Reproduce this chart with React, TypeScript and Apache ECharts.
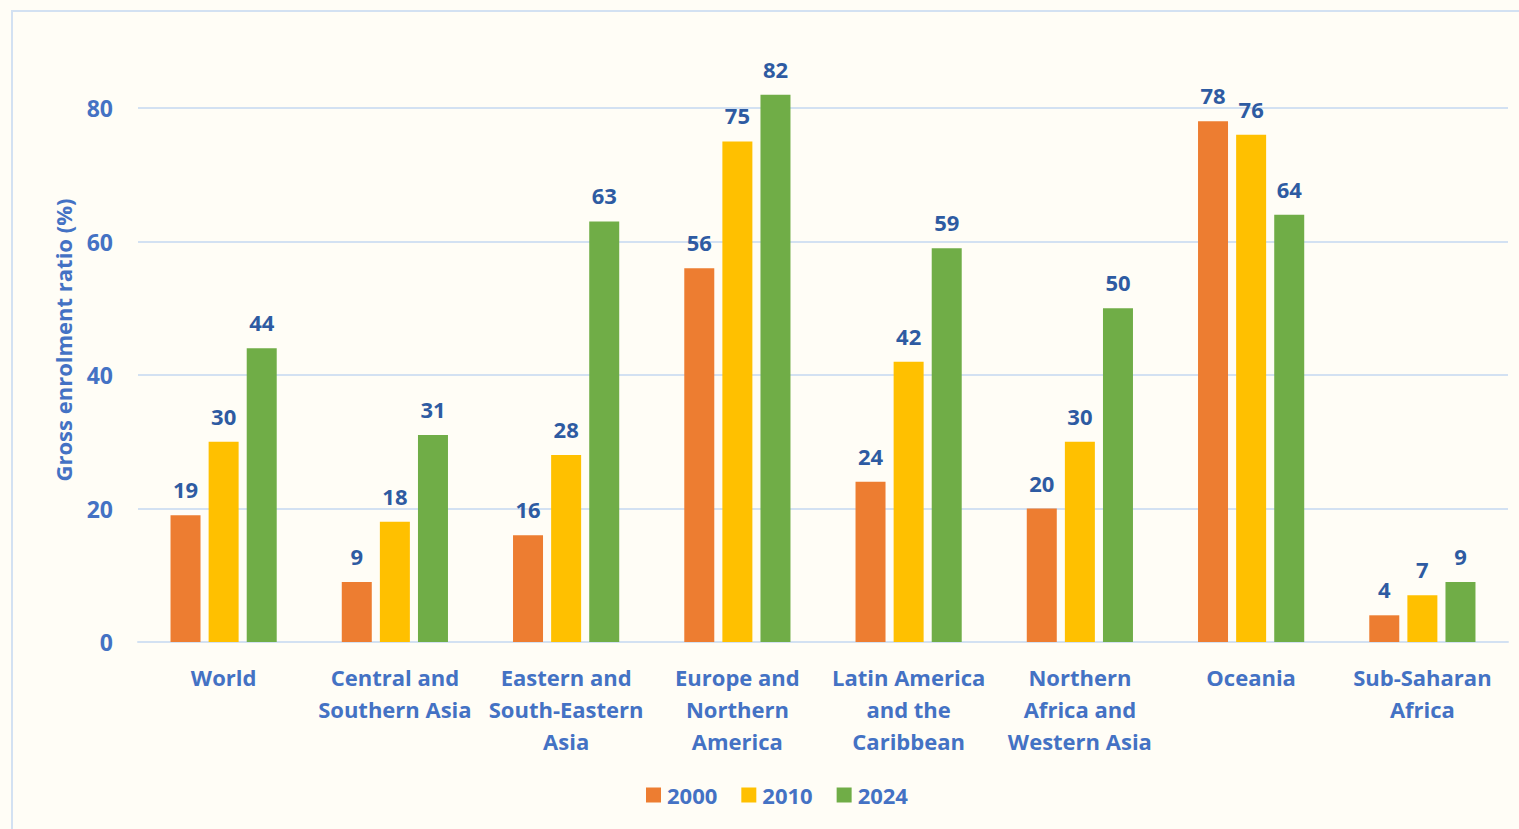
import React, { useEffect, useRef } from "react";
import * as echarts from "echarts";

const categories = [
  "World",
  "Central and\nSouthern Asia",
  "Eastern and\nSouth-Eastern\nAsia",
  "Europe and\nNorthern\nAmerica",
  "Latin America\nand the\nCaribbean",
  "Northern\nAfrica and\nWestern Asia",
  "Oceania",
  "Sub-Saharan\nAfrica",
];
const s2000 = [19, 9, 16, 56, 24, 20, 78, 4];
const s2010 = [30, 18, 28, 75, 42, 30, 76, 7];
const s2024 = [44, 31, 63, 82, 59, 50, 64, 9];
const seriesNames = ["2000", "2010", "2024"];
const colors = ["#ED7D31", "#FFC000", "#70AD47"];
const yAxisTitle = "Gross enrolment ratio (%)";

const FONT = "'Open Sans', 'Noto Sans', sans-serif";
const AXIS_BLUE = "#4472C4";
const LABEL_BLUE = "#2E5BA2";

export default function App() {
  const ref = useRef<HTMLDivElement>(null);
  useEffect(() => {
    if (!ref.current) return;
    const chart = echarts.init(ref.current, null, { renderer: "svg" });
    const data = [s2000, s2010, s2024];
    chart.setOption({
      animation: false,
      backgroundColor: "#FFFDF6",
      textStyle: { fontFamily: FONT },
      graphic: [
        {
          type: "rect",
          shape: { x: 12, y: 11, width: 1530, height: 840 },
          style: { fill: "none", stroke: "#D3E1F2", lineWidth: 2 },
          silent: true,
        },
        {
          type: "text",
          x: 63,
          y: 340,
          rotation: Math.PI / 2,
          style: {
            text: yAxisTitle,
            fill: AXIS_BLUE,
            font: `bold 22px ${FONT}`,
            align: "center",
            verticalAlign: "middle",
          },
          silent: true,
        },
      ],
      legend: {
        bottom: 18,
        left: 641,
        itemWidth: 15,
        itemHeight: 15,
        itemGap: 24,
        icon: "rect",
        textStyle: { color: AXIS_BLUE, fontSize: 22, fontWeight: "bold", fontFamily: FONT, padding: [0, 0, 0, 1] },
        data: seriesNames,
      },
      grid: { left: 138, right: 11, top: 108, bottom: 187, containLabel: false },
      xAxis: {
        type: "category",
        data: categories,
        axisLine: { show: true, lineStyle: { color: "#D3E1F2", width: 2 } },
        axisTick: { show: false },
        axisLabel: {
          color: AXIS_BLUE,
          fontSize: 22,
          fontWeight: "bold",
          fontFamily: FONT,
          lineHeight: 32,
          margin: 19,
          interval: 0,
        },
      },
      yAxis: {
        type: "value",
        min: 0,
        max: 80,
        interval: 20,
        axisLine: { show: false },
        axisTick: { show: false },
        axisLabel: { color: AXIS_BLUE, fontSize: 23, fontWeight: "bold", fontFamily: FONT, margin: 25 },
        splitLine: { lineStyle: { color: "#D3E1F2", width: 2 } },
      },
      series: seriesNames.map((n, i) => ({
        name: n,
        type: "bar",
        data: data[i],
        barWidth: 30,
        barGap: "27%",
        clip: false,
        itemStyle: { color: colors[i] },
        label: {
          show: true,
          position: "top",
          distance: 15,
          color: LABEL_BLUE,
          fontSize: 22,
          fontWeight: "bold",
          fontFamily: FONT,
        },
      })),
    });
    return () => chart.dispose();
  }, []);
  return (
    <div style={{ position: "fixed", left: 0, top: 0, width: 1519, height: 829 }}>
      <div ref={ref} style={{ width: 1519, height: 829 }} />
    </div>
  );
}
